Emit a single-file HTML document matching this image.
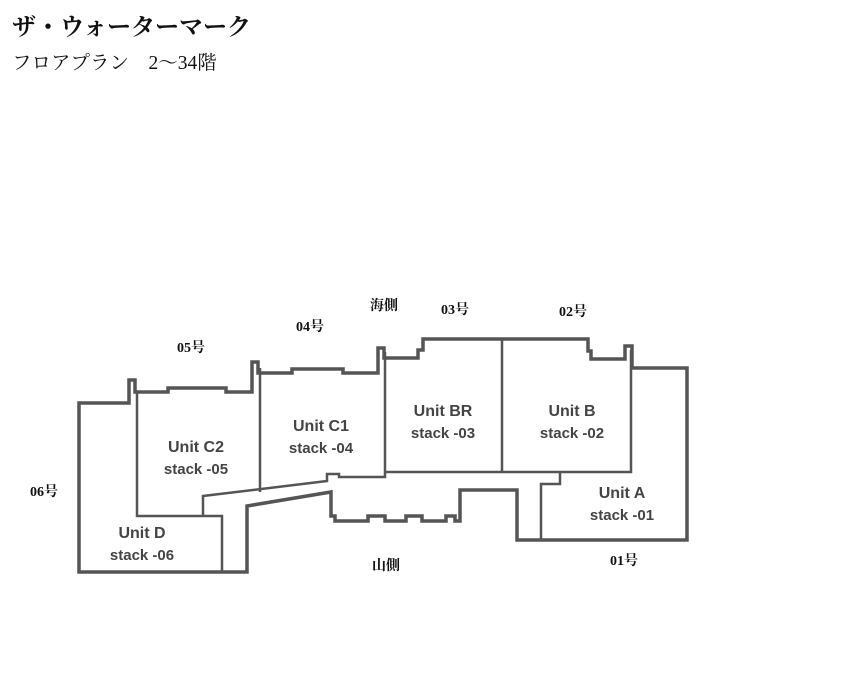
<!DOCTYPE html>
<html><head><meta charset="utf-8"><style>
html,body{margin:0;padding:0;background:#fff;width:860px;height:683px;overflow:hidden}
svg{display:block}
.j{font-family:"Liberation Serif","Noto Serif CJK SC","Noto Sans CJK JP",serif;font-weight:bold;fill:#111}
.u{font-family:"Liberation Sans",Arial,sans-serif;font-weight:bold;fill:#444;font-size:16px;text-anchor:middle}
.s{font-size:15px}
</style></head><body>
<svg width="860" height="683" viewBox="0 0 860 683" xmlns="http://www.w3.org/2000/svg">
<text class="j" x="12" y="35" style="font-size:24px">ザ・ウォーターマーク</text>
<text class="j" x="12" y="69" style="font-size:19.5px;font-weight:normal">フロアプラン　2～34階</text>

<g class="j" style="font-size:14px">
<text x="177" y="352">05号</text>
<text x="296" y="331">04号</text>
<text x="370" y="310">海側</text>
<text x="441" y="314">03号</text>
<text x="559" y="316">02号</text>
<text x="30" y="496">06号</text>
<text x="372" y="570">山側</text>
<text x="610" y="565">01号</text>
</g>

<g fill="none" stroke="#555" stroke-linejoin="miter">
<path stroke-width="3.5" d="M247,572 L79,572 L79,403 L129,403 L129,380 L135,380 L135,392 L168,392 L168,388 L226,388 L226,392 L252,392 L252,362 L258,362 L258,373 L292,373 L292,369 L343,369 L343,373 L378,373 L378,348 L384,348 L384,358 L418,358 L418,350 L423,350 L423,339 L588,339 L588,351 L591,351 L591,359 L625,359 L625,346 L632,346 L632,368 L687,368 L687,540 L517,540 L517,490 L460,490 L460,521 L455,521 L455,516 L446,516 L446,521 L422,521 L422,516 L406,516 L406,521 L385,521 L385,516 L368,516 L368,521 L335,521 L335,516 L331,516 L331,492 L247,506 Z"/>
<g stroke-width="2.5">
<path d="M137,392 L137,516 L222,516 L222,572"/>
<path d="M260,368 L260,492"/>
<path d="M203,516 L203,496 L327,481 L327,474 L339,474 L339,477 L385,477 L385,352"/>
<path d="M385,472 L631,472 L631,350"/>
<path d="M502,340 L502,472"/>
<path d="M560,472 L560,484 L541,484 L541,540"/>
</g>
</g>

<text class="u" x="196" y="452">Unit C2</text><text class="u s" x="196" y="474">stack -05</text>
<text class="u" x="321" y="431">Unit C1</text><text class="u s" x="321" y="453">stack -04</text>
<text class="u" x="443" y="416">Unit BR</text><text class="u s" x="443" y="438">stack -03</text>
<text class="u" x="572" y="416">Unit B</text><text class="u s" x="572" y="438">stack -02</text>
<text class="u" x="622" y="498">Unit A</text><text class="u s" x="622" y="520">stack -01</text>
<text class="u" x="142" y="538">Unit D</text><text class="u s" x="142" y="560">stack -06</text>
</svg>
</body></html>
